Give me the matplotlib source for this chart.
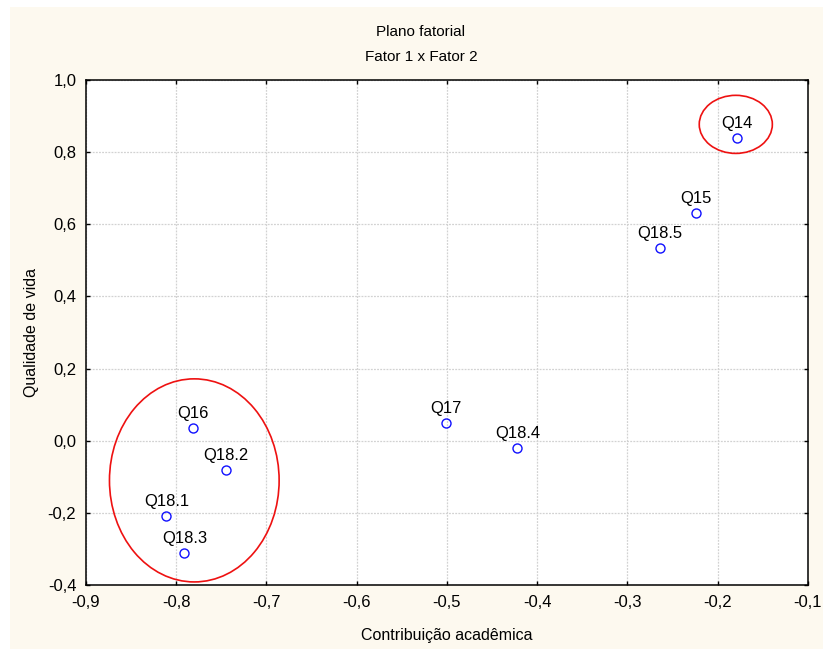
import matplotlib.pyplot as plt
import numpy as np
from matplotlib.patches import Ellipse, Rectangle
from matplotlib.ticker import FuncFormatter

plt.rcParams['font.family'] = ['Liberation Sans', 'DejaVu Sans']

labels = ["Q14", "Q15", "Q18.5", "Q16", "Q18.2", "Q18.1", "Q18.3", "Q17", "Q18.4"]
fator1 = [-0.179, -0.224, -0.264, -0.781, -0.745, -0.811, -0.791, -0.501, -0.422]
fator2 = [0.839, 0.632, 0.534, 0.035, -0.082, -0.208, -0.311, 0.048, -0.021]

# groups marked with red ellipses: (center x, center y, width, height)
grupos = [(-0.180, 0.877, 0.081, 0.161),
          (-0.780, -0.110, 0.188, 0.563)]

xticks = np.arange(-0.9, -0.05, 0.1)
yticks = np.arange(-0.4, 1.05, 0.2)

fig = plt.figure(figsize=(8.23, 6.5), dpi=100, facecolor="white")
fig.patches.append(Rectangle((10/823, 1/650), 813/823, 642/650, transform=fig.transFigure,
                             facecolor="#fdf9ef", edgecolor="none", zorder=-10))

ax = fig.add_axes([86/823, 1 - 585/650, 722/823, 505/650])
ax.set_facecolor("white")

ax.plot(fator1, fator2, "o", mfc="none", mec="#1010ff", ms=6.5, mew=1.0, zorder=3)
for lab, x, y in zip(labels, fator1, fator2):
    ax.annotate(lab, (x, y), xytext=(0, 5), textcoords="offset points",
                ha="center", va="bottom", fontsize=12)

for cx, cy, w, h in grupos:
    ax.add_patch(Ellipse((cx, cy), w, h, fill=False, edgecolor="#ee1111", lw=1.2, zorder=4))

ax.set_xlim(-0.9, -0.1)
ax.set_ylim(-0.4, 1.0)
ax.set_xticks(xticks)
ax.set_yticks(yticks)
ax.xaxis.set_major_formatter(FuncFormatter(lambda v, p: f"{v:.1f}".replace(".", ",")))
ax.yaxis.set_major_formatter(FuncFormatter(lambda v, p: f"{v:.1f}".replace(".", ",")))
ax.tick_params(direction="in", length=3, width=1, top=True, right=True, labelsize=12, pad=7)
ax.grid(True, color="#d2d2d2", linestyle=(0, (1.5, 1)), linewidth=0.9)
for s in ax.spines.values():
    s.set_linewidth(1.1)

ax.set_xlabel("Contribuição acadêmica", fontsize=11.5, labelpad=13)
ax.set_ylabel("Qualidade de vida", fontsize=11.5, labelpad=6)

fig.text(421/823, 1 - 32/650, "Plano fatorial", ha="center", va="center", fontsize=11)
fig.text(421/823, 1 - 57/650, "Fator 1 x Fator 2", ha="center", va="center", fontsize=11)

fig.savefig("out.png", dpi=100, facecolor=fig.get_facecolor())
